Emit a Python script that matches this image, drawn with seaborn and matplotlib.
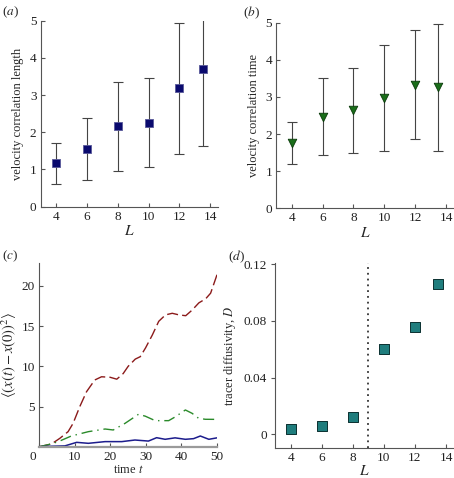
import numpy as np
import pandas as pd
import seaborn as sns
import matplotlib.pyplot as plt
import matplotlib.transforms as mtransforms

# data
L_values = [4, 6, 8, 10, 12, 13.5]

corr_length = [1.17, 1.56, 2.16, 2.26, 3.18, 3.71]
corr_length_low = [0.62, 0.72, 0.96, 1.06, 1.43, 1.63]
corr_length_high = [1.72, 2.39, 3.36, 3.46, 4.93, 5.3]

corr_time = [1.75, 2.47, 2.65, 2.98, 3.33, 3.26]
corr_time_low = [1.19, 1.43, 1.49, 1.55, 1.87, 1.55]
corr_time_high = [2.32, 3.51, 3.78, 4.41, 4.81, 4.97]

red_t = [0, 3.4, 5.8, 8.1, 9.5, 11.4, 13.3, 15.6, 17.5, 19.9, 21.8, 23.6, 25.0, 27.0,
         28.4, 29.9, 31.8, 33.6, 35.5, 37.4, 39.3, 41.2, 43.0, 44.9, 46.8, 48.2, 50.0]
red_msd = [0, 0.33, 1.05, 1.87, 2.9, 5.0, 6.85, 8.3, 8.7, 8.64, 8.4, 9.1, 10.0, 10.9,
           11.2, 12.3, 13.9, 15.6, 16.4, 16.6, 16.4, 16.3, 17.0, 17.9, 18.4, 19.1, 21.4]

green_t = [0, 2.5, 5.3, 9.0, 13.8, 18.5, 20.8, 24.1, 27.9, 29.8, 32.6, 36.4, 38.2,
           41.1, 43.0, 44.8, 46.7, 50.0]
green_msd = [0, 0.25, 0.62, 1.33, 1.87, 2.2, 2.08, 2.9, 4.03, 3.8, 3.24, 3.24, 3.7,
             4.57, 4.15, 3.54, 3.41, 3.4]

blue_t = [0, 3.0, 7.2, 10.5, 13.8, 18.5, 23.2, 26.9, 30.7, 33.0, 35.4, 38.2, 41.1,
          43.4, 45.3, 47.7, 50.0]
blue_msd = [0, 0.05, 0.1, 0.54, 0.42, 0.63, 0.63, 0.83, 0.7, 1.12, 0.92, 1.1, 0.92,
            1.0, 1.33, 0.92, 1.1]

diffusivity = [0.004, 0.006, 0.012, 0.060, 0.076, 0.106]

sns.set_style("ticks")
plt.rcParams['font.family'] = ['Liberation Serif', 'DejaVu Serif']
plt.rcParams['mathtext.fontset'] = 'stix'
plt.rcParams['font.size'] = 9.5
plt.rcParams['axes.edgecolor'] = '#555555'
plt.rcParams['axes.linewidth'] = 0.8
plt.rcParams['xtick.color'] = '#555555'
plt.rcParams['ytick.color'] = '#555555'
plt.rcParams['xtick.labelcolor'] = '#222222'
plt.rcParams['ytick.labelcolor'] = '#222222'

fig = plt.figure(figsize=(4.54, 4.78), dpi=100)
ax_a = fig.add_axes([0.0896, 0.5676, 0.3905, 0.389])
ax_b = fig.add_axes([0.6086, 0.5642, 0.3907, 0.3883])
ax_c = fig.add_axes([0.0866, 0.0655, 0.3914, 0.385])
ax_d = fig.add_axes([0.6064, 0.0621, 0.3930, 0.388])


def Style_Axes(ax, y_direction='in'):
    sns.despine(ax=ax)
    ax.tick_params(axis='x', direction='in', length=3, width=0.8, labelsize=9.5, pad=3)
    ax.tick_params(axis='y', direction=y_direction, length=3, width=0.8, labelsize=9.5, pad=3)


def Error_Panel(ax, y, low, high, marker, size, color, edge, y_label):
    y = np.array(y)
    err = [y - np.array(low), np.array(high) - y]
    ax.errorbar(L_values, y, yerr=err, fmt='none', ecolor='#444444', elinewidth=0.8,
                capsize=3.5, capthick=0.8, zorder=1)
    sns.scatterplot(x=L_values, y=y, ax=ax, marker=marker, s=size, color=color,
                    edgecolor=edge, linewidth=0.6, zorder=3, clip_on=False)
    ax.set_xlim(3, 14.5)
    ax.set_ylim(0, 5)
    ax.set_xticks([4, 6, 8, 10, 12, 14])
    ax.set_yticks([0, 1, 2, 3, 4, 5])
    ax.set_xlabel('$L$', fontsize=11, labelpad=1)
    ax.set_ylabel(y_label, fontsize=9, labelpad=4)
    Style_Axes(ax)


Error_Panel(ax_a, corr_length, corr_length_low, corr_length_high, 's', 30, '#0a0a6e', '#5a5a9a',
            'velocity correlation length')
Error_Panel(ax_b, corr_time, corr_time_low, corr_time_high, 'v', 38, '#1a6e1a', '#0a3a0a',
            'velocity correlation time')

# panel c
sns.lineplot(x=red_t, y=red_msd, ax=ax_c, color='#8b1a1a', linewidth=1.0)
sns.lineplot(x=green_t, y=green_msd, ax=ax_c, color='#2a8a2a', linewidth=1.0)
sns.lineplot(x=blue_t, y=blue_msd, ax=ax_c, color='#1c1c8c', linewidth=1.1)
ax_c.lines[0].set_dashes([8, 3])
ax_c.lines[1].set_dashes([8, 3.5, 1, 3.5])
ax_c.set_xlim(0, 50)
ax_c.set_ylim(0, 22.9)
ax_c.set_xticks([0, 10, 20, 30, 40, 50])
ax_c.set_yticks([5, 10, 15, 20])
ax_c.set_xlabel('time $t$', fontsize=9, labelpad=1)
ax_c.set_ylabel(r'$\langle(x(t)-x(0))^2\rangle$', fontsize=10.5, labelpad=2)
Style_Axes(ax_c)
ax_c.spines['bottom'].set_color('#9a9a9a')
ax_c.spines['bottom'].set_linewidth(1.6)
lbl0 = ax_c.get_xticklabels()[0]
lbl0.set_transform(lbl0.get_transform() + mtransforms.ScaledTranslation(-0.07, 0, fig.dpi_scale_trans))

# panel d
sns.scatterplot(x=L_values, y=diffusivity, ax=ax_d, marker='s', s=42, color='#1f7d7d',
                edgecolor='#0a3030', linewidth=0.7, zorder=3)
ax_d.axvline(9, color='#333333', linestyle=(0, (1, 2.2)), linewidth=1.3)
ax_d.set_xlim(3, 14.5)
ax_d.set_ylim(-0.0099, 0.1209)
ax_d.set_xticks([4, 6, 8, 10, 12, 14])
ax_d.set_yticks([0, 0.04, 0.08, 0.12])
ax_d.set_yticklabels(['0', '0.04', '0.08', '0.12'])
ax_d.set_xlabel('$L$', fontsize=11, labelpad=0)
ax_d.set_ylabel('tracer diffusivity, $D$', fontsize=9, labelpad=4)
Style_Axes(ax_d, y_direction='out')

# panel letters
for x, y, letter in [(0.004, 0.99, 'a'), (0.535, 0.99, 'b'), (0.004, 0.48, 'c'), (0.503, 0.48, 'd')]:
    fig.text(x, y, '($' + letter + '$)', fontsize=9.5, va='top', ha='left')

fig.savefig('out.png', dpi=100)
